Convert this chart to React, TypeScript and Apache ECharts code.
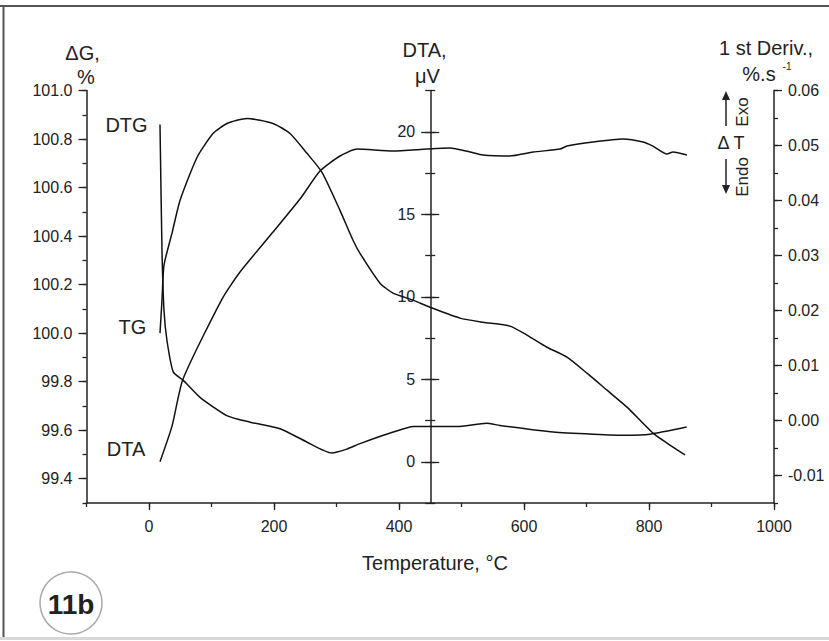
import React, { useEffect, useRef } from 'react';
import * as echarts from 'echarts';

// Temperature, °C (x) and TG, % (left axis)
const tgTemp = [17.6, 20.8, 24, 36.8, 49.6, 76.8, 102.4, 124.8, 156.8, 198.4, 225.6, 252.8, 276.8, 305.6, 326.4, 337.6, 369.6, 390.4, 422.4, 449.6, 497.6, 534.4, 577.6, 604.8, 636.8, 668.8, 700.8, 732.8, 764.8, 806.4, 828.8, 857.6];
const tgValues = [100.0, 100.136, 100.28, 100.412, 100.547, 100.724, 100.823, 100.864, 100.885, 100.864, 100.823, 100.741, 100.663, 100.506, 100.383, 100.329, 100.206, 100.165, 100.136, 100.107, 100.062, 100.045, 100.029, 99.992, 99.942, 99.901, 99.835, 99.765, 99.695, 99.588, 99.547, 99.498];

// 1st derivative, %.s-1 (right axis)
const dtgTemp = [17.6, 20.8, 24, 28.8, 38.9, 54.9, 81.6, 124.3, 161.6, 209.6, 252.3, 292.3, 316.3, 337.6, 390.9, 423, 449.6, 492.3, 540.3, 561.6, 646.9, 710.9, 764.3, 801.6, 860.3];
const dtgValues = [0.0538, 0.0309, 0.02, 0.0145, 0.0088, 0.0073, 0.0042, 0.0009, -0.0003, -0.0015, -0.0039, -0.0059, -0.0052, -0.0042, -0.0021, -0.0011, -0.0011, -0.0011, -0.0005, -0.0009, -0.0021, -0.0025, -0.0027, -0.0025, -0.0012];

// DTA, µV (middle axis)
const dtaTemp = [17.6, 36.8, 54.4, 116.8, 145.6, 198.4, 241.6, 273.6, 305.6, 332.8, 390.4, 444.8, 481.6, 513.6, 534.4, 577.6, 614.4, 657.6, 668.8, 710.4, 758.4, 790.4, 806.4, 828.8, 838.4, 860.8];
const dtaValues = [0.0, 2.16, 5.01, 9.86, 11.5, 13.92, 15.92, 17.62, 18.53, 18.95, 18.83, 18.95, 19.01, 18.77, 18.59, 18.53, 18.77, 18.95, 19.13, 19.38, 19.56, 19.38, 19.13, 18.65, 18.77, 18.59];

// Tick labels (every second one is shown)
const tempTicks = ['-100', '0', '100', '200', '300', '400', '500', '600', '700', '800', '900', '1000'];
const tgTicks = ['99.3', '99.4', '99.5', '99.6', '99.7', '99.8', '99.9', '100.0', '100.1', '100.2', '100.3', '100.4', '100.5', '100.6', '100.7', '100.8', '100.9', '101.0'];
const derivTicks = ['-0.015', '-0.01', '-0.005', '0.00', '0.005', '0.01', '0.015', '0.02', '0.025', '0.03', '0.035', '0.04', '0.045', '0.05', '0.055', '0.06'];
const dtaTicks = ['-2.5', '0', '2.5', '5', '7.5', '10', '12.5', '15', '17.5', '20', '22.5'];

const FONT = 'Liberation Sans, Arial, Helvetica, sans-serif';
const INK = '#222';
const MID_OFFSET = -343.75;

const odd = (i: number) => i % 2 === 1;
const all = () => true;
const tickLine = { color: INK, width: 1.3 };

function valueY(min: number, max: number, interval: number, position: string, offset = 0, tickLen = 4) {
  return {
    type: 'value', min, max, interval, position, offset,
    axisLine: { show: true, onZero: false, lineStyle: { color: INK, width: 1.5 } },
    axisTick: { show: true, length: tickLen, lineStyle: tickLine },
    axisLabel: { show: false },
    splitLine: { show: false },
  };
}

function catY(data: string[], position: string, offset: number, tickLen: number, tickFn: any, labels: boolean, inside = false, margin = 14) {
  return {
    type: 'category', data, boundaryGap: false, position, offset,
    axisLine: { show: false, onZero: false },
    axisTick: { show: true, length: tickLen, inside, interval: tickFn, lineStyle: tickLine },
    axisLabel: labels
      ? { show: true, interval: odd, fontSize: 16, color: INK, fontFamily: FONT, margin }
      : { show: false },
    splitLine: { show: false },
  };
}

function txt(text: string, x: number, y: number, fontSize = 20, extra: any = {}) {
  return {
    type: 'text', x, y, ...extra,
    style: { text, fontSize, fontFamily: FONT, fill: INK, align: 'center', verticalAlign: 'middle', ...(extra.style || {}) },
  };
}

export default function App() {
  const ref = useRef<HTMLDivElement>(null);
  useEffect(() => {
    const chart = echarts.init(ref.current!, null, { renderer: 'svg' });
    const line = (name: string, xs: number[], ys: number[], yAxisIndex: number) => ({
      type: 'line', name, xAxisIndex: 0, yAxisIndex,
      data: xs.map((t, i) => [t, ys[i]]),
      symbol: 'none', showSymbol: false, smooth: 0.2,
      lineStyle: { color: '#111', width: 1.5 },
      silent: true,
    });
    const option: any = {
      animation: false,
      backgroundColor: '#fff',
      grid: { left: 86.5, right: 55, top: 90.5, bottom: 138 },
      xAxis: [
        {
          type: 'value', min: -100, max: 1000, interval: 100, position: 'bottom',
          axisLine: { show: true, onZero: false, lineStyle: { color: INK, width: 1.5 } },
          axisTick: { show: true, length: 4, lineStyle: tickLine },
          axisLabel: { show: false }, splitLine: { show: false },
        },
        {
          type: 'category', data: tempTicks, boundaryGap: false, position: 'bottom',
          axisLine: { show: false, onZero: false },
          axisTick: { show: true, length: 7, interval: odd, lineStyle: tickLine },
          axisLabel: { show: true, interval: odd, fontSize: 16, color: INK, fontFamily: FONT, margin: 15 },
          splitLine: { show: false },
        },
      ],
      yAxis: [
        valueY(99.3, 101.0, 0.1, 'left'),
        valueY(-0.015, 0.06, 0.005, 'right'),
        valueY(-2.5, 22.5, 2.5, 'left', MID_OFFSET, 5),
        catY(tgTicks, 'left', 0, 8, odd, true),
        catY(derivTicks, 'right', 0, 8, odd, true),
        catY(dtaTicks, 'left', MID_OFFSET, 9, odd, true, false, 15),
        catY(dtaTicks, 'left', MID_OFFSET, 5, all, false, true),
        catY(dtaTicks, 'left', MID_OFFSET, 9, odd, false, true),
      ],
      series: [
        line('TG', tgTemp, tgValues, 0),
        line('DTG', dtgTemp, dtgValues, 1),
        line('DTA', dtaTemp, dtaValues, 2),
      ],
      graphic: [
        { type: 'line', shape: { x1: 0, y1: 6, x2: 829, y2: 6 }, style: { stroke: '#555', lineWidth: 2 } },
        { type: 'line', shape: { x1: 3.5, y1: 5, x2: 3.5, y2: 638 }, style: { stroke: '#555', lineWidth: 2 } },
        { type: 'line', shape: { x1: 0, y1: 638.5, x2: 829, y2: 638.5 }, style: { stroke: '#d8d8d8', lineWidth: 3 } },
        txt('ΔG,', 82.5, 53),
        txt('%', 86, 77),
        txt('DTA,', 424.5, 50),
        txt('μV', 427.5, 76),
        txt('1 st Deriv.,', 766, 48),
        txt('%.s', 759, 74),
        txt('-1', 787, 66, 10),
        txt('Temperature, °C', 435, 563),
        txt('DTG', 126.5, 125),
        txt('TG', 132.5, 327),
        txt('DTA', 126, 449),
        txt('Δ T', 731, 143, 18),
        txt('Exo', 742, 112, 17, { rotation: Math.PI / 2 }),
        txt('Endo', 742, 177, 17, { rotation: Math.PI / 2 }),
        { type: 'line', shape: { x1: 726, y1: 126, x2: 726, y2: 99 }, style: { stroke: INK, lineWidth: 1.5 } },
        { type: 'polygon', shape: { points: [[722, 100], [730, 100], [726, 91]] }, style: { fill: INK } },
        { type: 'line', shape: { x1: 726, y1: 159, x2: 726, y2: 186 }, style: { stroke: INK, lineWidth: 1.5 } },
        { type: 'polygon', shape: { points: [[722, 185], [730, 185], [726, 194]] }, style: { fill: INK } },
        { type: 'circle', shape: { cx: 71, cy: 603, r: 31 }, style: { fill: 'none', stroke: '#aaa', lineWidth: 1.5 } },
        txt('11b', 71, 604, 28, { style: { fontWeight: 'bold' } }),
      ],
    };
    chart.setOption(option);
    return () => chart.dispose();
  }, []);
  return <div ref={ref} style={{ position: 'fixed', left: 0, top: 0, width: 829, height: 641, background: '#fff' }} />;
}
